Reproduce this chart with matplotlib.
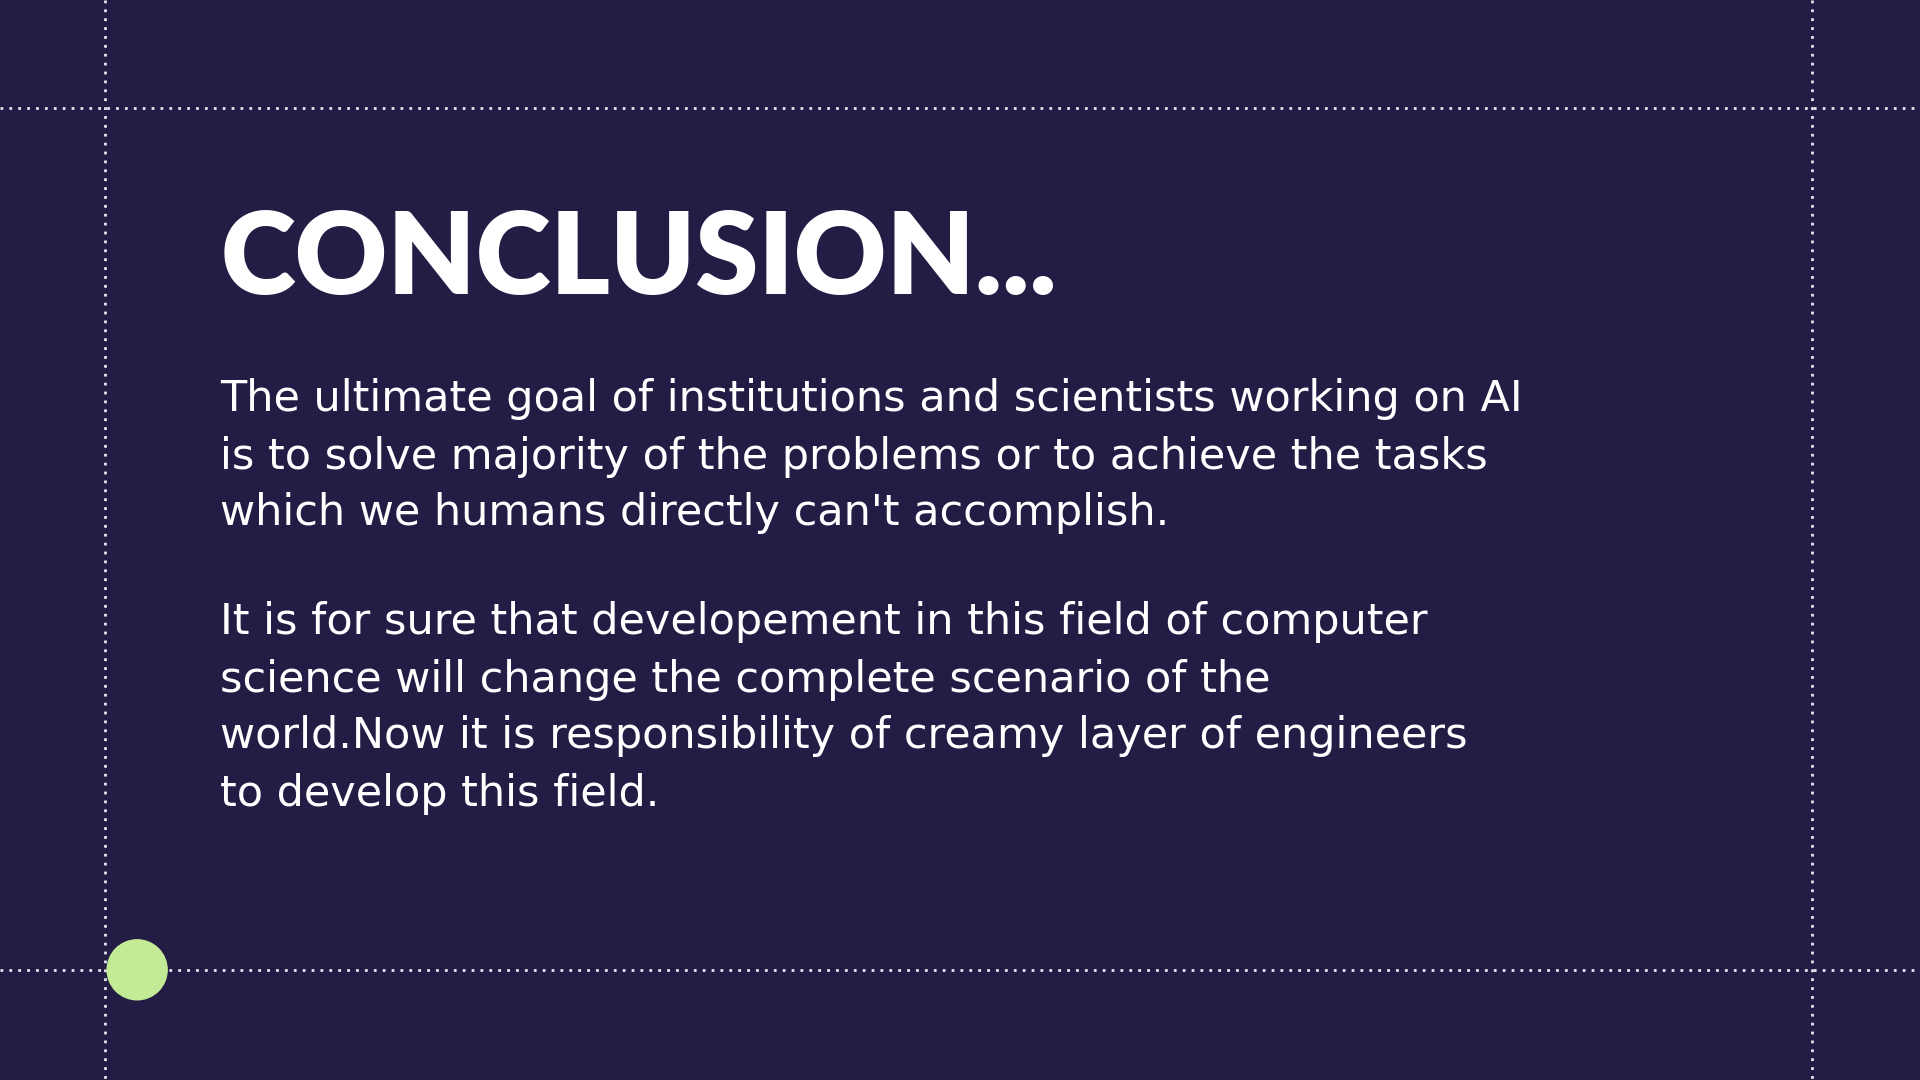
import matplotlib
matplotlib.use("Agg")
import matplotlib.pyplot as plt
from matplotlib.patches import Circle

W, H = 1568, 882
title = "CONCLUSION..."
para1 = ["The ultimate goal of institutions and scientists working on AI",
         "is to solve majority of the problems or to achieve the tasks",
         "which we humans directly can't accomplish."]
para2 = ["It is for sure that developement in this field of computer",
         "science will change the complete scenario of the",
         "world.Now it is responsibility of creamy layer of engineers",
         "to develop this field."]
para1_y = [336, 383, 429]
para2_y = [518, 565, 611, 658]

bg = "#231c45"
fig = plt.figure(figsize=(19.2, 10.8), dpi=100, facecolor=bg)
ax = fig.add_axes([0, 0, 1, 1])
ax.set_xlim(0, W); ax.set_ylim(H, 0); ax.axis("off"); ax.set_facecolor(bg)

ls = dict(color="#e8e6f0", lw=2, linestyle=(0, (1, 2.2)))
ax.plot([86, 86], [0, H], **ls)
ax.plot([1480, 1480], [0, H], **ls)
ax.plot([0, W], [88, 88], **ls)
ax.plot([0, W], [792, 792], **ls)
ax.add_patch(Circle((112, 792), 24.5, color="#c3eb95", zorder=5))

ax.text(180, 240, title, color="white", fontsize=82, fontweight="heavy",
        family="Lato", va="baseline", ha="left")
for t, y in list(zip(para1, para1_y)) + list(zip(para2, para2_y)):
    ax.text(180, y, t, color="white", fontsize=31, family="DejaVu Sans",
            fontweight="normal", va="baseline", ha="left")

fig.savefig("out.png", dpi=100, facecolor=bg)
